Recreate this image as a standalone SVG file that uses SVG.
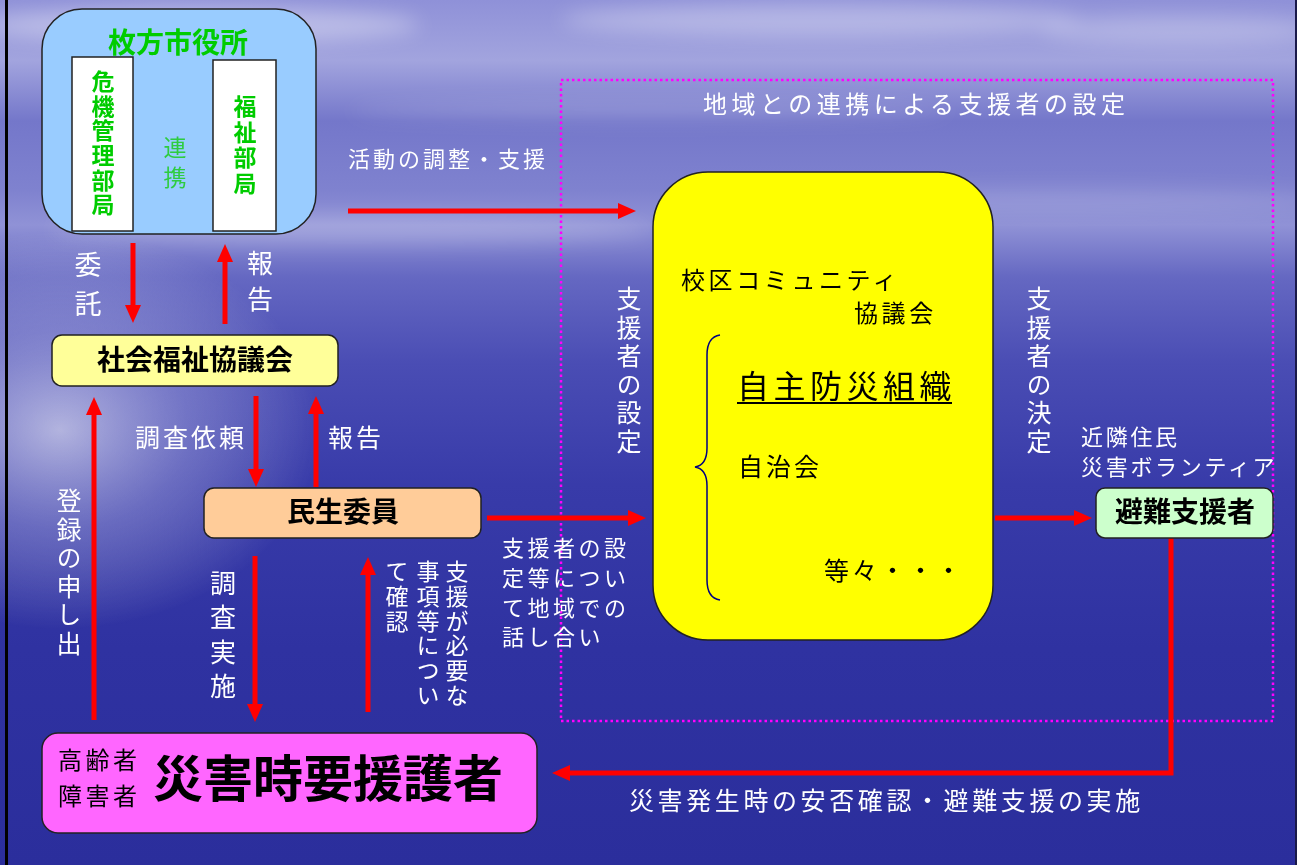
<svg xmlns="http://www.w3.org/2000/svg" width="1297" height="865" viewBox="0 0 1297 865">
<defs>
<linearGradient id="bg" x1="0" y1="0" x2="0" y2="1">
<stop offset="0" stop-color="#8f91d8"/>
<stop offset="0.07" stop-color="#a2a4de"/>
<stop offset="0.14" stop-color="#7477ca"/>
<stop offset="0.22" stop-color="#7f82cf"/>
<stop offset="0.26" stop-color="#9092d6"/>
<stop offset="0.32" stop-color="#6568c2"/>
<stop offset="0.42" stop-color="#4a4db4"/>
<stop offset="0.56" stop-color="#383ba9"/>
<stop offset="0.75" stop-color="#2f32a1"/>
<stop offset="1" stop-color="#2b2e9c"/>
</linearGradient>
<radialGradient id="glow" cx="0.5" cy="0.5" r="0.5">
<stop offset="0" stop-color="#ffffff" stop-opacity="0.6"/>
<stop offset="0.5" stop-color="#e0e0f8" stop-opacity="0.3"/>
<stop offset="1" stop-color="#ffffff" stop-opacity="0"/>
</radialGradient>
<filter id="blur" x="-50%" y="-50%" width="200%" height="200%"><feGaussianBlur stdDeviation="10"/></filter>
<marker id="ah" viewBox="0 0 18 16" markerWidth="18" markerHeight="16" refX="4" refY="8" orient="auto-start-reverse" markerUnits="userSpaceOnUse">
<path d="M0,0 L18,8 L0,16 z" fill="#ff0000"/>
</marker>
</defs>
<style>
text{font-family:"Noto Sans CJK JP","Noto Sans CJK SC",sans-serif;}
.w{fill:#ffffff;}
.k{fill:#000000;}
.g{fill:#00cc00;font-weight:bold;}
.b{font-weight:bold;}
.v{writing-mode:vertical-rl;text-orientation:upright;}
.arr{stroke:#ff0000;stroke-width:5;fill:none;marker-end:url(#ah);}
.box{stroke:#222222;stroke-width:1.5;}
</style>

<!-- background -->
<rect x="0" y="0" width="1297" height="865" fill="url(#bg)"/>
<g filter="url(#blur)" fill="#ffffff">
<ellipse cx="200" cy="25" rx="220" ry="18" opacity="0.35"/>
<ellipse cx="820" cy="20" rx="260" ry="16" opacity="0.3"/>
<ellipse cx="1180" cy="30" rx="140" ry="14" opacity="0.25"/>
<ellipse cx="650" cy="110" rx="300" ry="10" opacity="0.15"/>
<ellipse cx="1050" cy="200" rx="280" ry="12" opacity="0.15"/>
<ellipse cx="350" cy="230" rx="300" ry="14" opacity="0.2"/>
</g>
<ellipse cx="60" cy="430" rx="260" ry="200" fill="url(#glow)"/>
<rect x="5" y="0" width="3" height="865" fill="#000000"/>
<rect x="1295" y="0" width="2" height="865" fill="#1a1a4a"/>

<!-- region frame -->
<g id="region">
<rect x="561" y="80" width="712" height="641" fill="none" stroke="#ff00ff" stroke-width="2.5" stroke-dasharray="2.5 3"/>
<text class="w" x="703" y="113" font-size="24" letter-spacing="4.5">地域との連携による支援者の設定</text>
</g>

<!-- connectors -->
<g id="connectors">
<line x1="157" y1="122" x2="193" y2="122" class="arr" marker-start="url(#ah)"/>
<line x1="133" y1="243" x2="133" y2="309" class="arr"/>
<line x1="225" y1="324" x2="225" y2="258" class="arr"/>
<line x1="256" y1="396" x2="256" y2="473" class="arr"/>
<line x1="316" y1="487" x2="316" y2="410" class="arr"/>
<line x1="94" y1="720" x2="94" y2="411" class="arr"/>
<line x1="255" y1="556" x2="255" y2="708" class="arr"/>
<line x1="368" y1="712" x2="368" y2="571" class="arr"/>
<line x1="487" y1="518" x2="632" y2="518" class="arr"/>
<line x1="348" y1="211" x2="622" y2="211" class="arr"/>
<line x1="995" y1="518" x2="1078" y2="518" class="arr"/>
<path d="M1171,538 V773 H566" class="arr"/>

<text class="w v" x="88" y="251" font-size="27" letter-spacing="12">委託</text>
<text class="w v" x="260" y="250" font-size="26" letter-spacing="10">報告</text>
<text class="w" x="135" y="447" font-size="25" letter-spacing="3">調査依頼</text>
<text class="w" x="328" y="447" font-size="25" letter-spacing="3">報告</text>
<text class="w v" x="69" y="488" font-size="25" letter-spacing="3.5">登録の申し出</text>
<text class="w v" x="223" y="570" font-size="26" letter-spacing="8.5">調査実施</text>
<text class="w v" x="457" y="560" font-size="23" letter-spacing="1.7">支援が必要な</text>
<text class="w v" x="428" y="560" font-size="23" letter-spacing="1.7">事項等につい</text>
<text class="w v" x="397" y="560" font-size="23" letter-spacing="1.7">て確認</text>
<text class="w" x="502" y="556" font-size="22" letter-spacing="3.5">支援者の設</text>
<text class="w" x="502" y="586" font-size="22" letter-spacing="3.5">定等につい</text>
<text class="w" x="502" y="616" font-size="22" letter-spacing="3.5">て地域での</text>
<text class="w" x="502" y="645" font-size="22" letter-spacing="3.5">話し合い</text>
<text class="w" x="348" y="167" font-size="22" letter-spacing="3">活動の調整・支援</text>
<text class="w v" x="629" y="286" font-size="25" letter-spacing="3.5">支援者の設定</text>
<text class="w v" x="1039" y="286" font-size="25" letter-spacing="3.5">支援者の決定</text>
<text class="w" x="1081" y="445" font-size="22" letter-spacing="2.7">近隣住民</text>
<text class="w" x="1081" y="475" font-size="22" letter-spacing="2.7">災害ボランティア</text>
<text class="w" x="629" y="810" font-size="25" letter-spacing="3.6">災害発生時の安否確認・避難支援の実施</text>
</g>

<!-- city office -->
<g id="city-office">
<rect x="42" y="9" width="274" height="225" rx="40" fill="#99ccff" class="box"/>
<text class="g" x="178" y="53" font-size="28" text-anchor="middle">枚方市役所</text>
<rect x="72" y="57" width="61" height="174" fill="#ffffff" class="box"/>
<rect x="213" y="60" width="63" height="171" fill="#ffffff" class="box"/>
<text class="g v" x="103" y="70" font-size="23" letter-spacing="1.6">危機管理部局</text>
<text class="g v" x="245" y="95" font-size="23" letter-spacing="2.5">福祉部局</text>
<text class="v" x="175" y="136" font-size="23" letter-spacing="7" fill="#2ecc40">連携</text>
</g>

<!-- social welfare council -->
<g id="shakyo">
<rect x="52" y="335" width="286" height="51" rx="10" fill="#ffff99" class="box"/>
<text class="k b" x="195" y="370" font-size="28" text-anchor="middle">社会福祉協議会</text>
</g>

<!-- minsei -->
<g id="minsei">
<rect x="204" y="488" width="277" height="50" rx="10" fill="#ffcc99" class="box"/>
<text class="k b" x="343" y="522" font-size="28" text-anchor="middle">民生委員</text>
</g>

<!-- community council -->
<g id="community">
<rect x="653" y="172" width="340" height="468" rx="55" fill="#ffff00" class="box"/>
<text class="k" x="681" y="289" font-size="24" letter-spacing="3.6">校区コミュニティ</text>
<text class="k" x="854" y="322" font-size="24" letter-spacing="3.6">協議会</text>
<path d="M720,335 Q707,337 707,355 V448 Q707,465 695,467 Q707,469 707,486 V580 Q707,598 720,600" fill="none" stroke="#000080" stroke-width="1.5"/>
<text class="k" x="737" y="398" font-size="32" letter-spacing="4.5">自主防災組織</text>
<line x1="737" y1="403" x2="952" y2="403" stroke="#000000" stroke-width="2"/>
<text class="k" x="738" y="476" font-size="25" letter-spacing="3">自治会</text>
<text class="k" x="824" y="580" font-size="25" letter-spacing="3">等々・・・</text>
</g>

<!-- evacuation supporter -->
<g id="supporter">
<rect x="1096" y="488" width="177" height="50" rx="9" fill="#ccffcc" class="box"/>
<text class="k b" x="1185" y="522" font-size="28" text-anchor="middle">避難支援者</text>
</g>

<!-- people needing support -->
<g id="youengo">
<rect x="42" y="733" width="495" height="100" rx="16" fill="#ff66ff" class="box"/>
<text class="k" x="58" y="769" font-size="24" letter-spacing="3.5">高齢者</text>
<text class="k" x="58" y="805" font-size="24" letter-spacing="3.5">障害者</text>
<text class="k b" x="153" y="797" font-size="50">災害時要援護者</text>
</g>
</svg>
